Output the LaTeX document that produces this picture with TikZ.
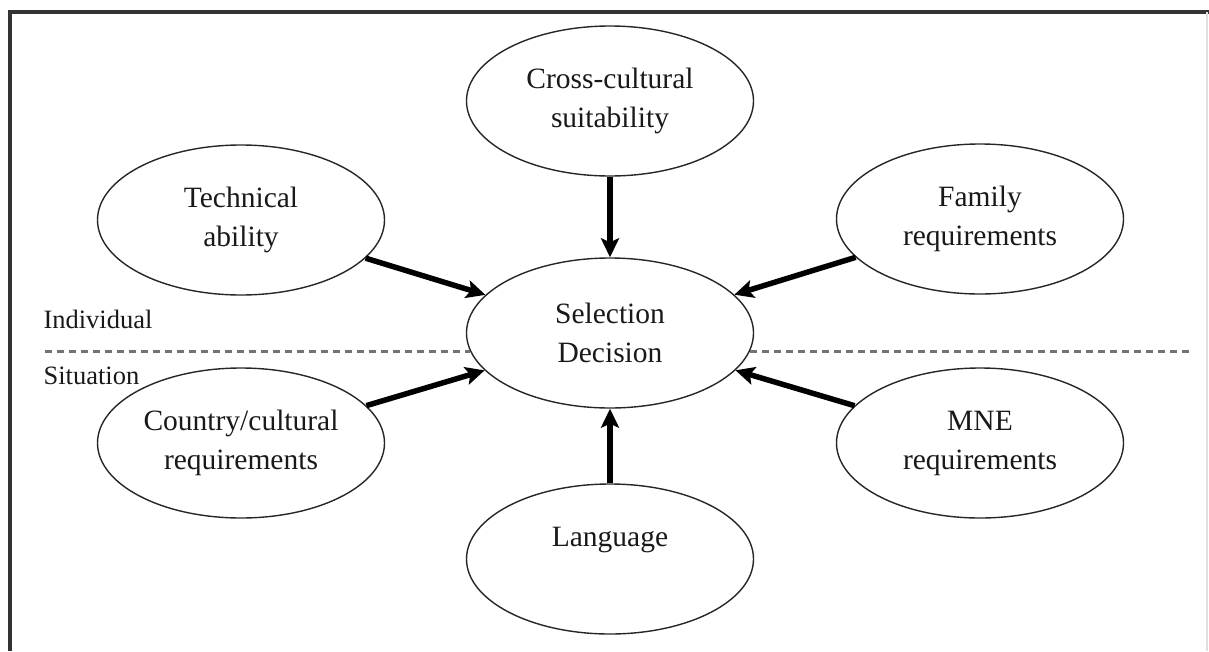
\documentclass[tikz,border=0pt]{standalone}
\usepackage{fontspec}
\setmainfont{Liberation Serif}
\usetikzlibrary{shapes.geometric,arrows.meta}
\tikzset{oval/.style={draw=black!85,line width=1.4pt,ellipse,minimum width=287pt,minimum height=150pt,inner sep=0pt,align=center,text=black!90,font=\fontsize{29.5}{39}\selectfont},
         line/.style={line width=5.5pt,-{Stealth[length=19pt,width=18pt,inset=4pt]}},
         divider/.style={black!55,line width=3pt,dash pattern=on 7pt off 5pt},
         side/.style={anchor=base west,text=black!90,font=\fontsize{26.5}{30}\selectfont}
     }

\begin{document}
\begin{tikzpicture}[x=1pt,y=-1pt]
\useasboundingbox (0,0) rectangle (1209,651);
%frame
\draw[line width=3.5pt,black!80] (10,651) -- (10,12) -- (1209,12);
\draw[line width=1.5pt,black!12] (1207,12) -- (1207,651);
\node[oval](sel) at (610,333) {Selection\\Decision};
\node[oval](cross) at (610,101) {Cross-cultural\\suitability};
\node[oval](tech) at (241,220) {Technical\\ability};
\node[oval](fam) at (980,219) {Family\\requirements};
\node[oval](ctry) at (241,443) {Country/cultural\\requirements};
\node[oval](mne) at (980,443) {MNE\\requirements};
\node[oval](lang) at (610,559) {Language\\[6pt]\mbox{}};
\node[side](ind) at (40,328) {Individual};
\node[side](sit) at (40,384) {Situation};
\coordinate (dl) at (45,351);
\coordinate (dr) at (1192,351);
\draw[divider] (dl) -- (dl -| sel.187);
\draw[divider] (dl -| sel.353) -- (dr);
\draw[line] (cross)-- (sel);
\draw[line] (tech)-- (sel);
\draw[line] (fam)-- (sel);
\draw[line] (ctry)-- (sel);
\draw[line] (mne)-- (sel);
\draw[line] (lang)-- (sel);
\end{tikzpicture}
\end{document}
